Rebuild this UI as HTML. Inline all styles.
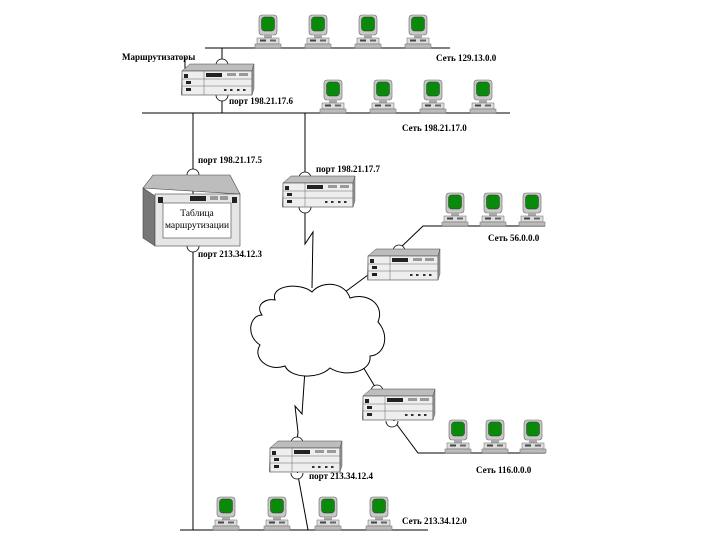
<!DOCTYPE html>
<html><head><meta charset="utf-8"><style>
html,body{margin:0;padding:0;background:#fff;}
svg{display:block;}
text{font-family:"Liberation Serif",serif;font-size:9px;font-weight:bold;fill:#000;}
</style></head><body>
<svg width="720" height="540" viewBox="0 0 720 540" xmlns="http://www.w3.org/2000/svg">
<defs>
<symbol id="pc" overflow="visible">
  <rect x="-9" y="0" width="18" height="20" rx="3" fill="#c8c8c8" stroke="#666" stroke-width="0.6"/>
  <rect x="-6.5" y="2" width="13" height="14" rx="3" fill="#0a8a0a" stroke="#333" stroke-width="0.5"/>
  <rect x="-4" y="20" width="8" height="3" fill="#aaa"/>
  <rect x="-11" y="23" width="22" height="6" fill="#ddd" stroke="#666" stroke-width="0.5"/>
  <rect x="-8" y="24.5" width="6" height="2" fill="#444"/>
  <rect x="2" y="24.5" width="6" height="2" fill="#666"/>
  <rect x="-13" y="29" width="26" height="4" fill="#bbb" stroke="#666" stroke-width="0.5"/>
</symbol>
<symbol id="rt" overflow="visible">
  <polygon points="0,7 8,0 72,0 70,7" fill="#bdbdbd" stroke="#444" stroke-width="0.5"/>
  <polygon points="0,7 0,32 -1,30" fill="#777"/>
  <rect x="0" y="7" width="70" height="24" fill="#eee" stroke="#444" stroke-width="0.6"/>
  <polygon points="70,7 72,0 72,25 70,31" fill="#999" stroke="#444" stroke-width="0.4"/>
  <rect x="2" y="10" width="4" height="4" fill="#222"/>
  <rect x="4" y="17" width="5" height="3" fill="#222"/>
  <rect x="4" y="24" width="5" height="3" fill="#222"/>
  <line x1="0" y1="15" x2="70" y2="15" stroke="#666" stroke-width="0.5"/>
  <line x1="0" y1="22" x2="70" y2="22" stroke="#666" stroke-width="0.5"/>
  <line x1="22" y1="7" x2="22" y2="31" stroke="#666" stroke-width="0.5"/>
  <rect x="24" y="9" width="16" height="4" fill="#222"/>
  <rect x="45" y="9" width="9" height="3" fill="#999"/>
  <rect x="57" y="9" width="9" height="3" fill="#999"/>
  <g fill="#333"><rect x="42" y="25" width="2.5" height="2"/><rect x="48" y="25" width="2.5" height="2"/><rect x="55" y="25" width="2.5" height="2"/><rect x="61" y="25" width="2.5" height="2"/></g>
</symbol>
</defs>
<g stroke="#000" stroke-width="1" fill="none">
  <line x1="205" y1="48" x2="450" y2="48"/>
  <line x1="222" y1="48" x2="222" y2="113"/>
  <line x1="142" y1="113" x2="510" y2="113"/>
  <line x1="193" y1="113" x2="193" y2="530"/>
  <line x1="305" y1="113" x2="305" y2="178"/>
  <polyline points="305,205 305,244 313,232 312,288"/>
  <line x1="345" y1="292" x2="372" y2="272"/>
  <polyline points="399,249 423,226 545,226"/>
  <line x1="360" y1="362" x2="377" y2="390"/>
  <polyline points="392,418 418,453 545,453"/>
  <polyline points="305,370 302,414 295,406 298,432 297,442"/>
  <line x1="297" y1="470" x2="308" y2="530"/>
  <line x1="180" y1="530" x2="428" y2="530"/>
  <line x1="185" y1="57" x2="185" y2="70"/>
</g>
<path d="M275,300 C270,285 300,282 312,292 C322,280 345,282 350,298 C368,292 385,305 378,322 C390,335 385,355 370,356 C372,372 345,378 330,368 C318,380 290,378 285,366 C268,372 252,358 260,345 C245,335 250,315 262,315 C255,305 265,298 275,300 Z" fill="#fff" stroke="#000" stroke-width="1"/>
<g fill="#fff" stroke="#000" stroke-width="0.8">
  <path d="M216,65 A6,6 0 0 1 228,65"/><path d="M216,95 A6,6 0 0 0 228,95"/>
  <path d="M187,175 A6,6 0 0 1 199,175"/><path d="M187,246 A6,6 0 0 0 199,246"/>
  <path d="M299,178 A6,6 0 0 1 311,178"/><path d="M299,207 A6,6 0 0 0 311,207"/>
  <path d="M393,251 A6,6 0 0 1 405,251"/><path d="M368,279 A6,6 0 0 0 376,271"/>
  <path d="M371,391 A6,6 0 0 1 383,391"/><path d="M386,421 A6,6 0 0 0 398,421"/>
  <path d="M291,443 A6,6 0 0 1 303,443"/><path d="M291,473 A6,6 0 0 0 303,473"/>
</g>
<use href="#rt" x="182" y="64"/>
<use href="#rt" x="283" y="176"/>
<use href="#rt" x="368" y="249"/>
<use href="#rt" x="363" y="389"/>
<use href="#rt" x="270" y="441"/>
<polygon points="143,188 153,175 230,175 240,194" fill="#bdbdbd" stroke="#444" stroke-width="0.6"/>
<polygon points="143,188 155,196 155,246 143,238" fill="#777" stroke="#444" stroke-width="0.6"/>
<rect x="155" y="194" width="85" height="52" fill="#e6e6e6" stroke="#444" stroke-width="0.6"/>
<rect x="158" y="197" width="5" height="6" fill="#222"/><rect x="232" y="197" width="5" height="6" fill="#222"/>
<rect x="190" y="196" width="16" height="5" fill="#222"/><rect x="210" y="196" width="8" height="4" fill="#999"/><rect x="220" y="196" width="8" height="4" fill="#999"/>
<rect x="163" y="203" width="68" height="35" fill="#fff" stroke="#444" stroke-width="0.6"/>
<text x="197" y="216" text-anchor="middle" style="font-weight:normal;font-size:9.5px">Таблица</text>
<text x="197" y="228" text-anchor="middle" style="font-weight:normal;font-size:9.5px">маршрутизации</text>
<g>
<use href="#pc" x="268" y="15"/><use href="#pc" x="318" y="15"/><use href="#pc" x="368" y="15"/><use href="#pc" x="418" y="15"/>
<use href="#pc" x="333" y="80"/><use href="#pc" x="383" y="80"/><use href="#pc" x="433" y="80"/><use href="#pc" x="483" y="80"/>
<use href="#pc" x="455" y="193"/><use href="#pc" x="493" y="193"/><use href="#pc" x="532" y="193"/>
<use href="#pc" x="458" y="420"/><use href="#pc" x="495" y="420"/><use href="#pc" x="533" y="420"/>
<use href="#pc" x="226" y="497"/><use href="#pc" x="277" y="497"/><use href="#pc" x="328" y="497"/><use href="#pc" x="379" y="497"/>
</g>
<text x="122" y="60">Маршрутизаторы</text>
<text x="436" y="61">Сеть 129.13.0.0</text>
<text x="229" y="104">порт 198.21.17.6</text>
<text x="402" y="131">Сеть 198.21.17.0</text>
<text x="198" y="163">порт 198.21.17.5</text>
<text x="316" y="172">порт 198.21.17.7</text>
<text x="488" y="241">Сеть 56.0.0.0</text>
<text x="198" y="257">порт 213.34.12.3</text>
<text x="476" y="473">Сеть 116.0.0.0</text>
<text x="309" y="479">порт 213.34.12.4</text>
<text x="402" y="524">Сеть 213.34.12.0</text>
</svg>
</body></html>
